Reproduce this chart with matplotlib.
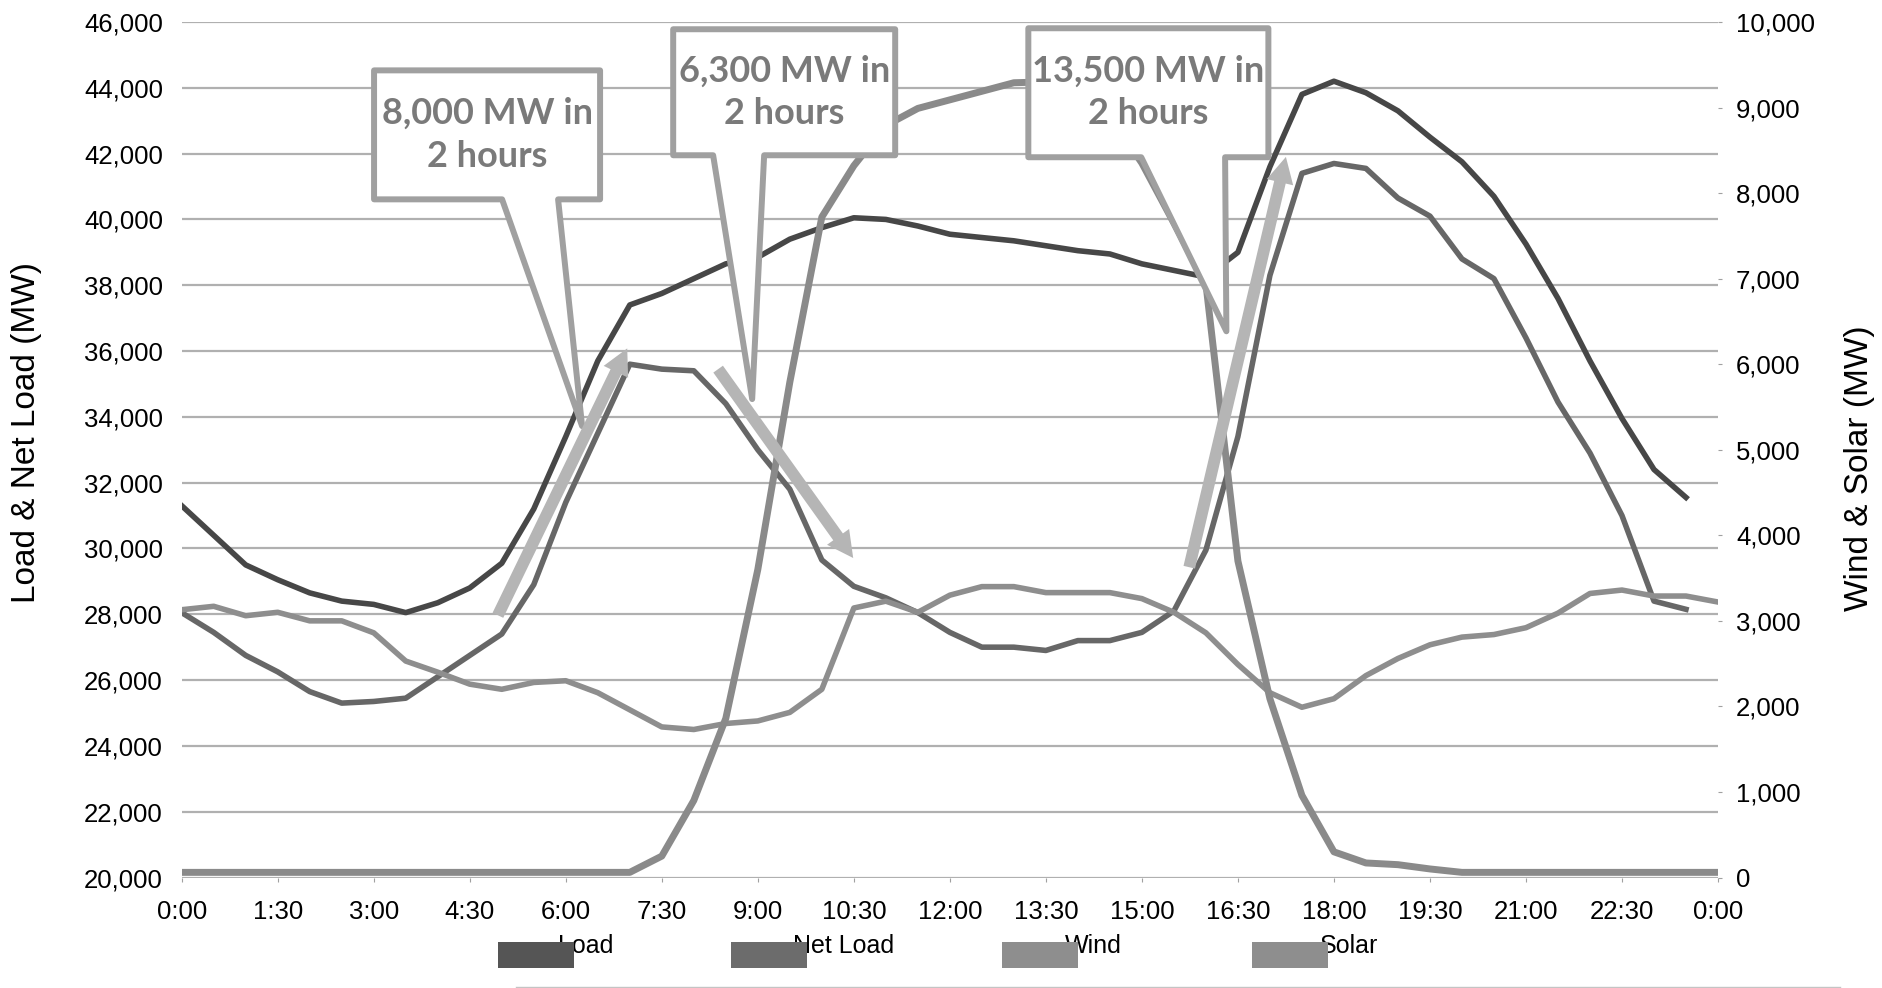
import numpy as np
import matplotlib.pyplot as plt
from matplotlib.patches import Polygon, Rectangle, FancyArrowPatch
from matplotlib.lines import Line2D

# ---- data (30 min steps) ----
# Load & Net Load, MW, 0:00 .. 23:30
load = [31300, 30400, 29500, 29050, 28650, 28400, 28300, 28050, 28350, 28800,
        29550, 31200, 33400, 35700, 37400, 37750, 38200, 38650, 38850, 39400,
        39750, 40050, 40000, 39800, 39550, 39450, 39350, 39200, 39050, 38950,
        38650, 38450, 38250, 39000, 41600, 43800, 44200, 43850, 43300, 42500,
        41750, 40700, 39250, 37600, 35700, 33950, 32400, 31550]
net_load = [28050, 27450, 26750, 26250, 25650, 25300, 25350, 25450, 26100, 26750,
            27400, 28900, 31400, 33500, 35600, 35450, 35400, 34400, 33000, 31800,
            29650, 28850, 28500, 28050, 27450, 27000, 27000, 26900, 27200, 27200,
            27450, 28100, 29950, 33400, 38300, 41400, 41700, 41550, 40650, 40100,
            38800, 38200, 36400, 34450, 32900, 31000, 28400, 28150]
# Wind & Solar, MW, 0:00 .. 24:00
wind = [3130, 3170, 3060, 3100, 3000, 3000, 2860, 2530, 2400, 2260,
        2200, 2280, 2300, 2160, 1960, 1760, 1730, 1800, 1830, 1930,
        2200, 3150, 3230, 3100, 3300, 3400, 3400, 3330, 3330, 3330,
        3260, 3100, 2860, 2490, 2160, 1990, 2090, 2360, 2560, 2720,
        2810, 2840, 2920, 3090, 3320, 3360, 3290, 3290, 3220]
solar = [60, 60, 60, 60, 60, 60, 60, 60, 60, 60,
         60, 60, 60, 60, 60, 250, 900, 1860, 3600, 5790,
         7720, 8320, 8790, 8990, 9090, 9190, 9290, 9300, 9200, 8900,
         8350, 7650, 6940, 3700, 2090, 960, 300, 170, 150, 100,
         60, 60, 60, 60, 60, 60, 60, 60, 60]

time_labels = ["0:00", "1:30", "3:00", "4:30", "6:00", "7:30", "9:00", "10:30", "12:00",
               "13:30", "15:00", "16:30", "18:00", "19:30", "21:00", "22:30", "0:00"]

series_names = ["Load", "Net Load", "Wind", "Solar"]
series_colors = ["#474747", "#676767", "#8e8e8e", "#8a8a8a"]
legend_colors = ["#555555", "#6c6c6c", "#8e8e8e", "#8e8e8e"]

callout_texts = ["8,000 MW in\n2 hours", "6,300 MW in\n2 hours", "13,500 MW in\n2 hours"]

W, H = 1883, 988
plt.rcParams["font.family"] = ["Liberation Sans", "DejaVu Sans"]

fig = plt.figure(figsize=(W / 100, H / 100), dpi=100)
ax = fig.add_axes([181.7 / W, 1 - 877.5 / H, (1718 - 181.7) / W, (877.5 - 22) / H])
ax2 = ax.twinx()

t_load = np.arange(len(load)) * 0.5
t_ren = np.arange(len(wind)) * 0.5

ax.plot(t_load, load, color=series_colors[0], lw=4.0, solid_joinstyle="round")
ax.plot(t_load, net_load, color=series_colors[1], lw=4.0, solid_joinstyle="round")
ax2.plot(t_ren, wind, color=series_colors[2], lw=4.0, solid_joinstyle="round")
ax2.plot(t_ren, solar, color=series_colors[3], lw=5.0, solid_joinstyle="round")

ax.set_xlim(0, 24)
ax.set_ylim(20000, 46000)
ax2.set_ylim(0, 10000)

ax.set_yticks(np.arange(20000, 46001, 2000))
ax.set_yticklabels([f"{v:,}" for v in range(20000, 46001, 2000)])
ax2.set_yticks(np.arange(0, 10001, 1000))
ax2.set_yticklabels([f"{v:,}" for v in range(0, 10001, 1000)])
ax.set_xticks(np.arange(0, 24.01, 1.5))
ax.set_xticklabels(time_labels)

ax.grid(axis="y", color="#b0b0b0", lw=1.6)
ax.grid(axis="x", visible=False)
for a in (ax, ax2):
    for s in a.spines.values():
        s.set_visible(False)

ax.tick_params(axis="x", length=3, color="#a0a0a0", pad=13, labelsize=18.5)
ax.tick_params(axis="y", length=0, pad=13.5, labelsize=18.5)
ax2.tick_params(axis="y", length=3, color="#a0a0a0", pad=10, labelsize=18.5)

fig.text(27 / W, 1 - 432 / H, "Load & Net Load (MW)", rotation=90, ha="center", va="center",
         fontsize=24)
fig.text(1860 / W, 1 - 468 / H, "Wind & Solar (MW)", rotation=90, ha="center", va="center",
         fontsize=24)

# ---- callouts (box + pointer), in left-axis data coords ----
boxes = [
    # x0, x1, y_top, y_bot, base0, base1, tip_x, tip_y
    (3.005, 6.536, 44530, 40610, 5.005, 5.88, 6.255, 33720),
    (7.678, 11.146, 45780, 41950, 8.302, 9.099, 8.912, 34540),
    (13.226, 16.976, 45810, 41890, 14.99, 16.30, 16.32, 36600),
]
for (x0, x1, yt, yb, b0, b1, tx, ty), txt in zip(boxes, callout_texts):
    verts = [(x0, yt), (x1, yt), (x1, yb), (b1, yb), (tx, ty), (b0, yb), (x0, yb)]
    ax2.add_patch(Polygon(verts, closed=True, transform=ax.transData, facecolor="white",
                          edgecolor="#a0a0a0", lw=4.3, joinstyle="round", zorder=6))
    ax2.text((x0 + x1) / 2, (yt + yb) / 2, txt, transform=ax.transData, ha="center",
             va="center", fontsize=26, color="#7a7a7a", family=["Lato", "DejaVu Sans"],
             weight="bold", linespacing=1.35, zorder=7)

# ---- ramp arrows ----
arrows = [((4.94, 27970), (6.96, 36080)),
          ((8.38, 35450), (10.49, 29710)),
          ((15.74, 29430), (17.25, 41900))]
for start, end in arrows:
    ax2.add_patch(FancyArrowPatch(start, end, transform=ax.transData,
                                  arrowstyle="simple,head_width=1.15,head_length=1.1,tail_width=0.5",
                                  mutation_scale=17, color="#b5b5b5", lw=0,
                                  shrinkA=0, shrinkB=0, zorder=8))

# ---- legend ----
sq_x = [498, 731, 1002, 1252]
txt_x = [558, 793, 1065, 1320]
for name, c, sx, tx in zip(series_names, legend_colors, sq_x, txt_x):
    fig.patches.append(Rectangle((sx / W, 1 - 968 / H), 76 / W, 26 / H, transform=fig.transFigure,
                                 facecolor=c, edgecolor="none", zorder=5))
    fig.text(tx / W, 1 - 953 / H, name, ha="left", va="baseline", fontsize=18,
             zorder=2)

fig.add_artist(Line2D([516 / W, 1840 / W], [1.5 / H, 1.5 / H], color="#c4c4c4", lw=1))

fig.savefig("out.png", dpi=100, facecolor="white")
